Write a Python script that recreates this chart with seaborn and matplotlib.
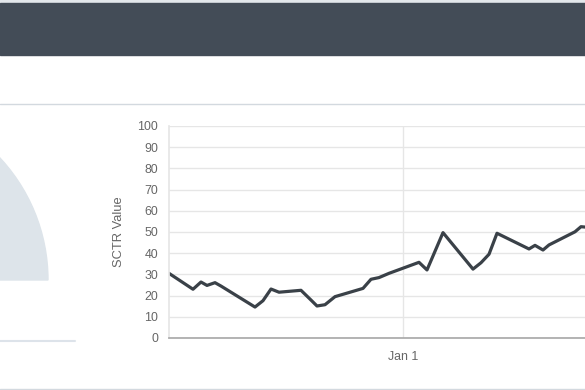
import numpy as np
import pandas as pd
import matplotlib.pyplot as plt
from matplotlib.patches import Rectangle, Wedge
import seaborn as sns

# --- data ---
day_offsets = [-117, -105, -101, -98, -94, -91, -74, -70, -66, -62, -51, -46,
               -43, -39, -34, -20, -16, -12, -7, 8, 12, 20, 35, 39, 43, 47,
               63, 66, 70, 73, 86, 89, 95]
sctr_values = [30.5, 23.0, 26.4, 24.8, 26.1, 24.5, 14.6, 17.6, 23.1, 21.6, 22.5, 17.9,
               15.1, 15.7, 19.5, 23.4, 27.7, 28.5, 30.5, 35.7, 32.1, 49.7, 32.5, 35.5,
               39.5, 49.4, 42.0, 43.7, 41.5, 43.9, 50.1, 52.5, 52.0]
start_date = pd.Timestamp("2024-01-01")
x_ticks = ["2024-01-01"]
x_tick_labels = ["Jan 1"]
y_ticks = list(range(0, 101, 10))

df = pd.DataFrame({
    "date": start_date + pd.to_timedelta(day_offsets, unit="D"),
    "sctr": sctr_values,
})

# --- style ---
sns.set_theme(style="white")
plt.rcParams["font.family"] = ["Liberation Sans", "DejaVu Sans"]
TXT = "#666666"
GRID = "#e6e6e6"

W, H = 585, 390
fig = plt.figure(figsize=(W / 100, H / 100), dpi=100)
fig.patch.set_facecolor("white")

# page background pieces, in pixel coords (y grows downward)
bg = fig.add_axes([0, 0, 1, 1])
bg.set_xlim(0, W)
bg.set_ylim(H, 0)
bg.axis("off")
bg.add_patch(Rectangle((0, 0), W, 3, color="#e3e7eb"))
bg.add_patch(Rectangle((0, 3), W, 52, color="#434c57"))
bg.plot([0, W], [103.5, 103.5], color="#d3d9df", lw=1)
bg.plot([0, W], [389, 389], color="#d3d9df", lw=1)
# gauge background (cut off at the left edge)
bg.add_patch(Wedge((-131, 280), 179, 180, 360, color="#dde4ea"))
bg.plot([0, 75], [340.5, 340.5], color="#dde3ea", lw=1.5)

# --- line chart ---
left, top, bottom, right = 169, 126, 338, 620
ax = fig.add_axes([left / W, (H - bottom) / H, (right - left) / W, (bottom - top) / H])
sns.lineplot(data=df, x="date", y="sctr", ax=ax, color="#3a4148", lw=2.3)

ax.set_xlim(start_date - pd.Timedelta(days=117), start_date + pd.Timedelta(days=(right - left) / 2 - 117))
ax.set_ylim(0, 100)
ax.set_yticks(y_ticks)
ax.set_xticks(pd.to_datetime(x_ticks))
ax.set_xticklabels(x_tick_labels)
ax.grid(True, color=GRID, lw=1)
ax.set_axisbelow(True)

for side in ["top", "right"]:
    ax.spines[side].set_visible(False)
ax.spines["left"].set_color(GRID)
ax.spines["bottom"].set_color("#aaaaaa")
ax.tick_params(axis="both", direction="out", length=6.5, width=1, color=GRID,
               labelsize=8.9, labelcolor=TXT, pad=1.5)
ax.tick_params(axis="x", pad=3)

ax.set_xlabel("")
ax.set_ylabel("SCTR Value", color=TXT, fontsize=9.3)
ax.yaxis.set_label_coords((125 - left) / (right - left), 0.5)

fig.savefig("out.png", dpi=100)
